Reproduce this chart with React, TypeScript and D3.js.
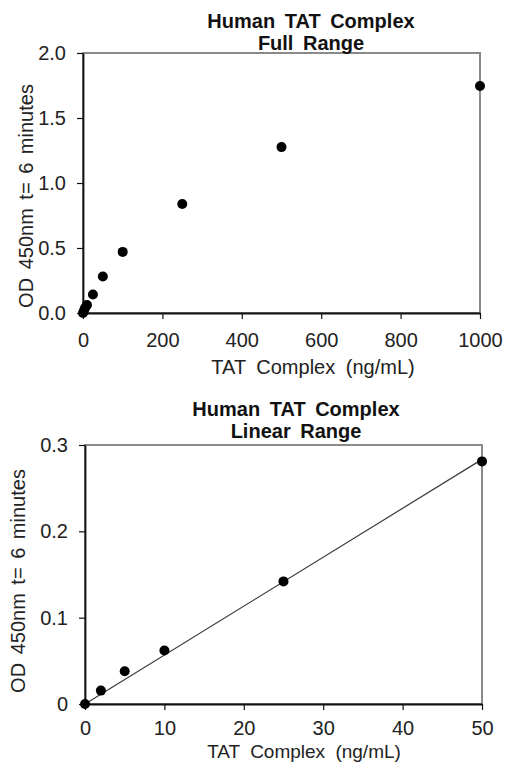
import * as d3 from "d3";
import { useEffect, useRef } from "react";

// standard concentrations (ng/mL) and OD 450nm at t = 6 minutes
const concentrations = [0, 2, 5, 10, 25, 50, 100, 250, 500, 1000];
const odValues = [0, 0.0155, 0.038, 0.062, 0.142, 0.281, 0.47, 0.838, 1.276, 1.746];

// the linear range uses the first six standards
const linearCount = 6;

const fullXTicks = [0, 200, 400, 600, 800, 1000];
const fullYTicks = [0, 0.5, 1.0, 1.5, 2.0];
const linearXTicks = [0, 10, 20, 30, 40, 50];
const linearYTicks = [0, 0.1, 0.2, 0.3];

const titleLine1 = "Human TAT Complex";
const fullTitle2 = "Full Range";
const linearTitle2 = "Linear Range";
const xTitle = "TAT Complex (ng/mL)";
const yTitle = "OD 450nm t= 6 minutes";

const FONT = "'Liberation Sans', Arial, Helvetica, sans-serif";

type PanelCfg = {
  left: number;
  right: number;
  top: number;
  bottom: number;
  xDomain: [number, number];
  yDomain: [number, number];
  xTicks: number[];
  yTicks: number[];
  yFormat: (v: number) => string;
  xs: number[];
  ys: number[];
  title2: string;
  titleX: number;
  titleY1: number;
  titleY2: number;
  xTitleX: number;
  xTitleY: number;
  xTitleSize: number;
  yTitleX: number;
  yTitleY: number;
  xPad: number;
  fit: boolean;
};

function drawPanel(svg: d3.Selection<SVGSVGElement, unknown, null, undefined>, c: PanelCfg) {
  const x = d3.scaleLinear().domain(c.xDomain).range([c.left, c.right]);
  const y = d3.scaleLinear().domain(c.yDomain).range([c.bottom, c.top]);

  const g = svg.append("g");

  // gray frame (top / right edges show)
  g.append("rect")
    .attr("x", c.left)
    .attr("y", c.top)
    .attr("width", c.right - c.left)
    .attr("height", c.bottom - c.top)
    .attr("fill", "none")
    .attr("stroke", "#8a8a8a")
    .attr("stroke-width", 2);

  const xAxis = g
    .append("g")
    .attr("transform", `translate(0,${c.bottom})`)
    .call(
      d3.axisBottom(x).tickValues(c.xTicks).tickSize(6).tickSizeOuter(0).tickPadding(c.xPad).tickFormat(d3.format("d") as any)
    );
  const yAxis = g
    .append("g")
    .attr("transform", `translate(${c.left},0)`)
    .call(d3.axisLeft(y).tickValues(c.yTicks).tickSize(6).tickSizeOuter(0).tickPadding(11).tickFormat(c.yFormat as any));

  [xAxis, yAxis].forEach((a) => {
    a.select(".domain").attr("stroke", "#111").attr("stroke-width", 1.8);
    a.selectAll(".tick line").attr("stroke", "#111").attr("stroke-width", 1.2);
    a.selectAll(".tick text").attr("fill", "#222").style("font-family", FONT).style("font-size", "20px");
  });

  // regression line through origin
  if (c.fit) {
    const sxy = d3.sum(c.xs, (v, i) => v * c.ys[i]);
    const sxx = d3.sum(c.xs, (v) => v * v);
    const slope = sxy / sxx;
    const x0 = c.xDomain[0];
    const x1 = d3.max(c.xs)!;
    g.append("line")
      .attr("x1", x(x0))
      .attr("y1", y(slope * x0))
      .attr("x2", x(x1))
      .attr("y2", y(slope * x1))
      .attr("stroke", "#3a3a3a")
      .attr("stroke-width", 1.2);
  }

  g.selectAll("circle.pt")
    .data(c.xs.map((v, i) => [v, c.ys[i]]))
    .join("circle")
    .attr("class", "pt")
    .attr("cx", (d) => x(d[0]))
    .attr("cy", (d) => y(d[1]))
    .attr("r", 5)
    .attr("fill", "#000");

  // titles
  const t = g
    .append("text")
    .attr("text-anchor", "middle")
    .style("font-family", FONT)
    .style("font-size", "20px")
    .style("font-weight", "bold")
    .style("word-spacing", "4px")
    .attr("fill", "#111");
  t.append("tspan").attr("x", c.titleX).attr("y", c.titleY1).text(titleLine1);
  t.append("tspan").attr("x", c.titleX).attr("y", c.titleY2).text(c.title2);

  g.append("text")
    .attr("x", c.xTitleX)
    .attr("y", c.xTitleY)
    .attr("text-anchor", "middle")
    .style("font-family", FONT)
    .style("font-size", `${c.xTitleSize}px`)
    .style("word-spacing", "5px")
    .attr("fill", "#222")
    .text(xTitle);

  g.append("text")
    .attr("transform", `translate(${c.yTitleX},${c.yTitleY}) rotate(-90)`)
    .attr("text-anchor", "middle")
    .style("font-family", FONT)
    .style("font-size", "20px")
    .style("word-spacing", "3px")
    .attr("fill", "#222")
    .text(yTitle);
}

export default function App() {
  const ref = useRef<SVGSVGElement>(null);

  useEffect(() => {
    if (!ref.current) return;
    const svg = d3.select(ref.current);
    svg.selectAll("*").remove();

    drawPanel(svg, {
      left: 83,
      right: 480,
      top: 53,
      bottom: 313,
      xDomain: [0, 1000],
      yDomain: [0, 2],
      xTicks: fullXTicks,
      yTicks: fullYTicks,
      yFormat: d3.format(".1f"),
      xs: concentrations,
      ys: odValues,
      title2: fullTitle2,
      titleX: 311,
      titleY1: 28,
      titleY2: 50,
      xTitleX: 313,
      xTitleY: 374,
      xTitleSize: 20,
      yTitleX: 33,
      yTitleY: 196,
      xPad: 13.5,
      fit: false,
    });

    drawPanel(svg, {
      left: 85,
      right: 482,
      top: 445,
      bottom: 704,
      xDomain: [0, 50],
      yDomain: [0, 0.3],
      xTicks: linearXTicks,
      yTicks: linearYTicks,
      yFormat: (v: number) => (v === 0 ? "0" : d3.format(".1f")(v)),
      xs: concentrations.slice(0, linearCount),
      ys: odValues.slice(0, linearCount),
      title2: linearTitle2,
      titleX: 296,
      titleY1: 416,
      titleY2: 438,
      xTitleX: 304,
      xTitleY: 758,
      xTitleSize: 19,
      yTitleX: 25,
      yTitleY: 581,
      xPad: 11,
      fit: true,
    });
  }, []);

  return (
    <svg
      ref={ref}
      width={506}
      height={765}
      style={{ position: "absolute", left: 0, top: 0, background: "#fff" }}
    />
  );
}
